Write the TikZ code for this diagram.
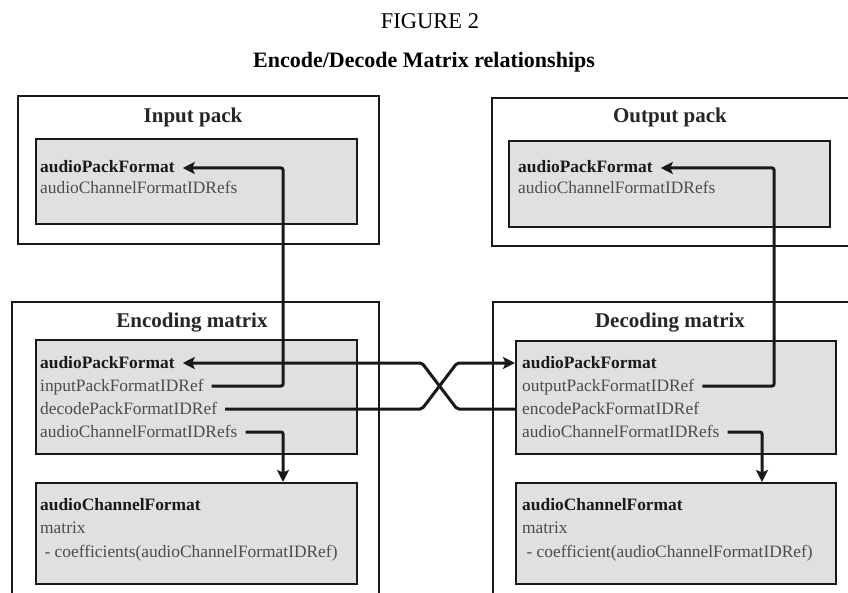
\documentclass[tikz,border=0pt]{standalone}
\usepackage{fontspec}
\setmainfont{Liberation Serif}
\usetikzlibrary{arrows.meta, positioning}
\definecolor{boxfill}{RGB}{224,224,224}
\definecolor{ink}{RGB}{25,25,25}
\tikzset{
    x=1pt, y=-1pt, % pixel-like units, y runs downwards
    >={Stealth[length=12pt, width=12pt, inset=2.5pt]}, % bold arrow heads
    pack/.style={draw=ink, line width=1.8pt, fill=white, anchor=north west, inner sep=0pt}, % outer frames
    block/.style={draw=ink, line width=2.4pt, fill=boxfill, anchor=north west, inner sep=0pt}, % grey inner boxes
    txt/.style={anchor=base west, inner xsep=8pt, inner ysep=0pt, text height=12pt, text depth=2pt,
                text=black!70, font=\fontsize{17.4}{21}\selectfont}, % one line of a box
    key/.style={txt, text=ink, font=\fontsize{17.4}{21}\selectfont\bfseries}, % bold first line
    hd/.style={anchor=base, text=black!85, font=\fontsize{21}{25}\selectfont\bfseries}, % frame titles
    link/.style={->, draw=ink, line width=3pt, rounded corners=2pt}, % connectors
}
\begin{document}
\begin{tikzpicture}
    \clip (0,0) rectangle (848,593);
    \fill[white] (0,0) rectangle (848,593);
    \node[anchor=base, font=\fontsize{22.5}{26}\selectfont] (fig) at (430,29) {FIGURE 2};
    \node[anchor=base, font=\fontsize{22}{26}\selectfont\bfseries] (title) at (424,68) {Encode/Decode Matrix relationships};
    % outer frames
    \node[pack, minimum width=361pt, minimum height=148pt] (inPack) at (17,95) {};
    \node[pack, minimum width=370pt, minimum height=148pt] (outPack) at (491,97) {};
    \node[pack, minimum width=367pt, minimum height=310pt] (encMat) at (11,301) {};
    \node[pack, minimum width=368pt, minimum height=310pt] (decMat) at (492,301) {};
    \node[hd] (inHd) at (193,123) {Input pack};
    \node[hd] (outHd) at (670,123) {Output pack};
    \node[hd] (encHd) at (192,327) {Encoding matrix};
    \node[hd] (decHd) at (670,327) {Decoding matrix};
    % grey boxes
    \node[block, minimum width=321pt, minimum height=85pt] (inTop) at (35,138) {};
    \node[block, minimum width=321pt, minimum height=86pt] (outTop) at (508,140) {};
    \node[block, minimum width=321pt, minimum height=114pt] (encTop) at (35,339) {};
    \node[block, minimum width=321pt, minimum height=101pt] (encBot) at (35,482) {};
    \node[block, minimum width=320pt, minimum height=113pt] (decTop) at (515,340) {};
    \node[block, minimum width=320pt, minimum height=101pt] (decBot) at (515,482) {};
    % lines of text
    \node[key] (inApf) at (32,173) {audioPackFormat};
    \node[txt] (inAcf) at (32,194) {audioChannelFormatIDRefs};
    \node[key] (outApf) at (510,173) {audioPackFormat};
    \node[txt] (outAcf) at (510,194) {audioChannelFormatIDRefs};
    \node[key] (encApf) at (32,368) {audioPackFormat};
    \node[txt] (encIn) at (32,391) {inputPackFormatIDRef};
    \node[txt] (encDec) at (32,414) {decodePackFormatIDRef};
    \node[txt] (encAcf) at (32,437) {audioChannelFormatIDRefs};
    \node[key] (encCf) at (32,510) {audioChannelFormat};
    \node[txt] (encMx) at (32,533) {matrix};
    \node[txt] (encCo) at (32,557) {\ - coefficients(audioChannelFormatIDRef)};
    \node[key] (decApf) at (514,368) {audioPackFormat};
    \node[txt] (decOut) at (514,391) {outputPackFormatIDRef};
    \node[txt] (decEnc) at (514,414) {encodePackFormatIDRef};
    \node[txt] (decAcf) at (514,437) {audioChannelFormatIDRefs};
    \node[key] (decCf) at (514,510) {audioChannelFormat};
    \node[txt] (decMx) at (514,533) {matrix};
    \node[txt] (decCo) at (514,557) {\ - coefficient(audioChannelFormatIDRef)};
    % turning points of the connectors
    \coordinate (encBus) at (283,0);
    \coordinate (decBus) at (774,0);
    \coordinate (decDrop) at (762,0);
    \coordinate (xL) at (422,0);
    \coordinate (xR) at (457,0);
    \draw[link] (encIn.east) -| (encBus |- inApf.east) -- (inApf.east);
    \draw[link] (encAcf.east) -| (encBus |- encBot.north);
    \draw[link] (decOut.east) -| (decBus |- outApf.east) -- (outApf.east);
    \draw[link] (decAcf.east) -| (decDrop |- decBot.north);
    \draw[link] (decTop.west |- decEnc.west) -- (xR |- decEnc.west) -- (xL |- encApf.east) -- (encApf.east);
    \draw[link] (encDec.east) -- (xL |- encDec.east) -- (xR |- decApf.west) -- (decTop.west |- decApf.west);
\end{tikzpicture}
\end{document}
